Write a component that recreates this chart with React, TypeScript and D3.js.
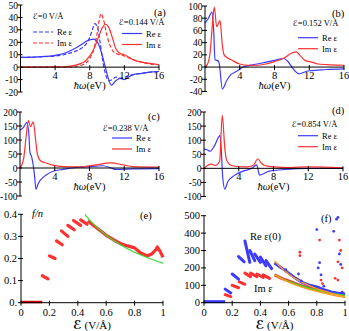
import React from "react";
import * as d3 from "d3";

type Pt = [number, number];

// ---- panel (a) ----
const aReE0: Pt[] = [[0, 7.8], [2, 8.2], [4, 9], [5, 10], [6, 12], [7, 15], [7.5, 18], [8, 24], [8.3, 30], [8.6, 35], [8.9, 32], [9.2, 20], [9.5, 5], [9.8, -5], [10.2, -11], [10.6, -10], [11, -8], [11.5, -9], [12, -8], [13, -6], [14, -5], [15, -4], [16, -3.5]];
const aImE0: Pt[] = [[0, 0], [5, 0], [6, 0.3], [7, 1.5], [7.5, 3], [8, 7], [8.5, 15], [8.8, 25], [9.1, 38], [9.3, 43], [9.6, 38], [10, 25], [10.5, 15], [11, 11], [11.5, 10], [12, 9], [13, 6], [14, 4], [15, 2.5], [16, 2]];
const aReE144: Pt[] = [[0, 7.8], [2, 8.3], [4, 9.5], [5, 11], [6, 14], [7, 18], [7.5, 20.5], [8, 22], [8.5, 22.5], [8.8, 21], [9.1, 17], [9.5, 8], [9.8, 0], [10.1, -8], [10.5, -14.5], [11, -11], [11.5, -9], [12, -10], [12.5, -8], [13, -6], [14, -5], [15, -4], [16, -3.5]];
const aImE144: Pt[] = [[0, 0], [5, 0.3], [6, 1], [7, 3], [7.5, 5], [8, 9], [8.5, 15], [9, 24], [9.4, 31], [9.8, 34.5], [10.2, 32], [10.6, 24], [11, 15], [11.5, 11], [12, 10], [12.5, 8], [13, 6], [14, 4], [15, 3], [16, 2]];
const aTicksY = [-20, -10, 0, 10, 20, 30, 40, 50];

// ---- panel (b) ----
const bRe: Pt[] = [[0, 72], [0.4, 80], [0.8, 90], [1.0, 60], [1.15, 12], [1.4, 11], [1.6, 8], [2.0, -36], [2.5, -22], [3, -12], [3.5, -8], [4.4, 0], [6, 5], [8, 11], [9, 14], [9.5, 10], [10, 0], [10.8, -11], [11.5, -8], [12, -6], [13, -5], [14, -4], [16, -3]];
const bIm: Pt[] = [[0, 0], [0.3, 5], [0.6, 25], [0.85, 70], [1.07, 98], [1.35, 66], [1.73, 76], [2.0, 35], [2.2, 20], [2.6, 15], [3, 12], [4, 5], [5, 3], [6, 3], [7, 5], [8, 9], [9, 14], [10, 23], [10.5, 25], [11, 18], [11.5, 11], [12.3, 8], [13, 5], [14, 4], [16, 3]];
const bTicksY = [-40, -20, 0, 20, 40, 60, 80, 100];

// ---- panel (c) ----
const cRe: Pt[] = [[0, 135], [0.4, 145], [0.77, 162], [1.0, 130], [1.15, 55], [1.34, 40], [1.65, -20], [1.84, -76], [2.1, -55], [2.6, -35], [3, -25], [4, -10], [5, -5], [6, 0], [8, 5], [9.5, 8], [10.5, 0], [11, -5], [13, -3], [16, -2]];
const cIm: Pt[] = [[0, 0], [0.4, 30], [0.7, 110], [0.96, 170], [1.2, 148], [1.53, 165], [1.8, 100], [2.0, 50], [2.4, 25], [3, 18], [3.8, 10], [5, 5], [7, 4], [8.5, 10], [10.5, 18], [12, 10], [13, 5], [16, 3]];
const cdTicksY = [-100, -50, 0, 50, 100, 150, 200];

// ---- panel (d) ----
const dRe: Pt[] = [[0, 68], [0.35, 66], [0.7, 61], [1.2, 80], [1.84, 116], [2.0, 60], [2.15, -30], [2.4, -74], [2.7, -50], [3.5, -25], [4.5, -10], [5.5, 0], [6.06, 12], [6.4, -24], [7.5, -10], [9, -5], [12, 0], [16, 0]];
const dIm: Pt[] = [[0, 0], [0.8, 15], [1.3, 10], [1.8, 25], [2.1, 188], [2.4, 70], [2.6, 30], [3.2, 10], [4, 6], [5, 5], [5.7, 12], [6.2, 34], [6.6, 18], [7, 10], [8, 5], [10, 3], [12, 5], [16, 2]];

const eVTicks = [4, 8, 12, 16];

// ---- panel (e) ----
const eZero: Pt[] = [[0, 0.003], [0.15, 0.003]];
const eSegs: Pt[][] = [
  [[0.15, 0.122], [0.19, 0.108]],
  [[0.2, 0.212], [0.24, 0.2]],
  [[0.25, 0.28], [0.29, 0.262]],
  [[0.285, 0.325], [0.33, 0.3]],
  [[0.33, 0.35], [0.375, 0.33]],
  [[0.37, 0.372], [0.42, 0.35]],
  [[0.42, 0.375], [0.465, 0.355]],
];
const eTail: Pt[] = [[0.47, 0.37], [0.5, 0.355], [0.55, 0.33], [0.6, 0.305], [0.65, 0.285], [0.7, 0.268], [0.75, 0.257], [0.8, 0.248], [0.84, 0.226], [0.89, 0.212], [0.92, 0.22], [0.95, 0.24], [0.96, 0.252], [0.98, 0.232], [1.0, 0.205]];
const eGreen: Pt[] = [[0.45, 0.4], [0.5, 0.362], [0.6, 0.305], [0.7, 0.262], [0.8, 0.228], [0.9, 0.201], [1.0, 0.179]];
const eTicksY = [0, 0.1, 0.2, 0.3, 0.4];
const eTickLabY = ["0.", "0.1", "0.2", "0.3", "0.4"];
const fieldTicks = [0, 0.2, 0.4, 0.6, 0.8, 1];
const fieldTickLab = ["0", "0.2", "0.4", "0.6", "0.8", "1"];

// ---- panel (f) ----
const fBlueZero: Pt[] = [[0, 6], [0.15, 6]];
const fBlueSegs: Pt[][] = [
  [[0.15, 78], [0.19, 56]],
  [[0.2, 165], [0.245, 135]],
  [[0.245, 265], [0.285, 235]],
  [[0.29, 355], [0.325, 232]],
  [[0.325, 300], [0.36, 242]],
  [[0.36, 280], [0.4, 232]],
  [[0.4, 262], [0.44, 212]],
  [[0.44, 242], [0.48, 196]],
];
const fRedSegs: Pt[][] = [
  [[0.15, 46], [0.19, 35]],
  [[0.2, 100], [0.245, 86]],
  [[0.25, 120], [0.29, 106]],
  [[0.29, 170], [0.33, 150]],
  [[0.33, 170], [0.375, 150]],
  [[0.375, 165], [0.42, 145]],
  [[0.42, 160], [0.465, 140]],
];
const fBlueTail: Pt[] = [[0.5, 228], [0.55, 200], [0.6, 170], [0.65, 140], [0.7, 115], [0.75, 100], [0.8, 90], [0.85, 75], [0.9, 62], [0.95, 55], [1.0, 50]];
const fRedTail: Pt[] = [[0.5, 160], [0.55, 140], [0.6, 125], [0.65, 110], [0.7, 95], [0.75, 85], [0.8, 75], [0.85, 65], [0.9, 58], [0.95, 52], [1.0, 45]];
const fOrangeUp: Pt[] = [[0.5, 240], [0.6, 165], [0.7, 115], [0.8, 80], [0.9, 55], [1.0, 35]];
const fOrangeLow: Pt[] = [[0.5, 160], [0.6, 118], [0.7, 88], [0.8, 65], [0.9, 45], [1.0, 30]];
const fGreen: Pt[] = [[0.5, 160], [0.6, 122], [0.7, 95], [0.8, 72], [0.9, 55], [1.0, 42]];
const fBlueDots: Pt[] = [[0.58, 190], [0.67, 165], [0.69, 125], [0.8, 420], [0.81, 200], [0.82, 230], [0.83, 160], [0.85, 95], [0.92, 410], [0.94, 480], [0.95, 490], [0.96, 280], [0.97, 220], [0.98, 60]];
const fRedDots: Pt[] = [[0.68, 290], [0.68, 270], [0.82, 360], [0.83, 130], [0.84, 110], [0.93, 140], [0.95, 130], [0.95, 235], [0.96, 360], [0.97, 300], [0.98, 200]];
const fTicksY = [0, 100, 200, 300, 400, 500];

const BLUE = "#3b3bff";
const RED = "#ff3030";
const GREEN = "#33dd33";
const ORANGE = "#ff9a1a";
const FONT = "'Liberation Serif', 'Times New Roman', serif";
const SCRIPT = "'DejaVu Sans', sans-serif";
const E = "\u2130";

type Series = { data: Pt[]; color: string; dash?: string };
type Legend = { title: string; tx: number; ty: number; lx: number; y1: number; dash?: string };

function Spectrum(props: {
  x0: number; x1: number; yDomain: [number, number]; yRange: [number, number];
  yTicks: number[]; series: Series[]; legends: Legend[]; tag: string; tagX: number; tagY: number;
}) {
  const { x0, x1, yDomain, yRange, yTicks, series, legends, tag, tagX, tagY } = props;
  const x = d3.scaleLinear().domain([0, 16]).range([x0, x1]);
  const y = d3.scaleLinear().domain(yDomain).range(yRange);
  const line = d3.line<Pt>().x(d => x(d[0])).y(d => y(d[1])).curve(d3.curveMonotoneX);
  const zy = y(0);
  return (
    <g fontFamily={FONT} fill="#000">
      {series.map((s, i) => (
        <path key={i} d={line(s.data) || ""} fill="none" stroke={s.color} strokeWidth={1.2} strokeDasharray={s.dash} />
      ))}
      <line x1={x0} x2={x1} y1={zy} y2={zy} stroke="#000" strokeWidth={1} />
      <line x1={x0} x2={x0} y1={yRange[0]} y2={yRange[1]} stroke="#000" strokeWidth={1} />
      {yTicks.map(t => (
        <g key={t}>
          <line x1={x0 - 3} x2={x0 + 2} y1={y(t)} y2={y(t)} stroke="#000" />
          <text x={x0 - 2.5} y={y(t) + 3.5} fontSize={9.5} textAnchor="end">{t < 0 ? "-" + Math.abs(t) : t}</text>
        </g>
      ))}
      {eVTicks.map(t => (
        <g key={t}>
          <line x1={x(t)} x2={x(t)} y1={zy - 2} y2={zy + 3} stroke="#000" />
          <text x={x(t)} y={zy + 12} fontSize={10.5} textAnchor="middle">{t}</text>
        </g>
      ))}
      <text x={(x0 + x1) / 2} y={zy + 22} fontSize={10.5} textAnchor="middle">
        <tspan fontStyle="italic">ħω</tspan>(eV)
      </text>
      {legends.map((l, i) => (
        <g key={i}>
          <text x={l.tx} y={l.ty} fontSize={8.5}><tspan fontFamily={SCRIPT} fontStyle="italic" fontSize={8}>{E}</tspan>{l.title}</text>
          <line x1={l.lx} x2={l.lx + 20} y1={l.y1} y2={l.y1} stroke={BLUE} strokeWidth={1.2} strokeDasharray={l.dash} />
          <text x={l.lx + 24} y={l.y1 + 3} fontSize={8.5}>Re ε</text>
          <line x1={l.lx} x2={l.lx + 20} y1={l.y1 + 11} y2={l.y1 + 11} stroke={RED} strokeWidth={1.2} strokeDasharray={l.dash} />
          <text x={l.lx + 24} y={l.y1 + 14} fontSize={8.5}>Im ε</text>
        </g>
      ))}
      <text x={tagX} y={tagY} fontSize={10.5}>{tag}</text>
    </g>
  );
}

function FieldAxes(props: { x: d3.ScaleLinear<number, number>; y: d3.ScaleLinear<number, number>; ticks: number[]; labels: string[] }) {
  const { x, y, ticks, labels } = props;
  const [x0] = x.range();
  const [yb, yt] = y.range();
  return (
    <g fontFamily={FONT}>
      <line x1={x0} x2={x(1)} y1={yb} y2={yb} stroke="#000" />
      <line x1={x0} x2={x0} y1={yb} y2={yt} stroke="#000" />
      {ticks.map((t, i) => (
        <g key={i}>
          <line x1={x0 - 3} x2={x0 + 2} y1={y(t)} y2={y(t)} stroke="#000" />
          <text x={x0 - 4} y={y(t) + 3.5} fontSize={10.5} textAnchor="end">{labels[i]}</text>
        </g>
      ))}
      {fieldTicks.map((t, i) => (
        <g key={i}>
          <line x1={x(t)} x2={x(t)} y1={yb - 2} y2={yb + 3} stroke="#000" />
          <text x={x(t)} y={yb + 13} fontSize={10.5} textAnchor="middle">{fieldTickLab[i]}</text>
        </g>
      ))}
      <text x={(x0 + x(1)) / 2} y={yb + 26.5} fontSize={11} textAnchor="middle">
        <tspan fontFamily={SCRIPT} fontStyle="italic" fontWeight="bold" fontSize={12}>{E}</tspan> (V/Å)
      </text>
    </g>
  );
}

export default function App() {
  const ex = d3.scaleLinear().domain([0, 1]).range([21, 163]);
  const ey = d3.scaleLinear().domain([0, 0.4]).range([302.7, 214.3]);
  const fx = d3.scaleLinear().domain([0, 1]).range([204, 345]);
  const fy = d3.scaleLinear().domain([0, 500]).range([302.7, 215.7]);
  const eLine = d3.line<Pt>().x(d => ex(d[0])).y(d => ey(d[1]));
  const fLine = d3.line<Pt>().x(d => fx(d[0])).y(d => fy(d[1]));
  const eSmooth = d3.line<Pt>().x(d => ex(d[0])).y(d => ey(d[1])).curve(d3.curveMonotoneX);
  const fSmooth = d3.line<Pt>().x(d => fx(d[0])).y(d => fy(d[1])).curve(d3.curveMonotoneX);

  return (
    <svg width={349} height={331} style={{ position: "absolute", left: 0, top: 0, background: "#fff" }}>
      <Spectrum x0={20.5} x1={159} yDomain={[-20, 50]} yRange={[92, 5]} yTicks={aTicksY}
        series={[
          { data: aReE0, color: BLUE, dash: "4,2" },
          { data: aImE0, color: RED, dash: "4,2" },
          { data: aReE144, color: BLUE },
          { data: aImE144, color: RED },
        ]}
        legends={[
          { title: "=0 V/Å", tx: 33, ty: 19, lx: 33, y1: 32, dash: "4,2" },
          { title: "=0.144 V/Å", tx: 119, ty: 24.5, lx: 122, y1: 33.5 },
        ]}
        tag="(a)" tagX={154} tagY={15.5} />
      <Spectrum x0={205} x1={344} yDomain={[-40, 100]} yRange={[91.5, 6]} yTicks={bTicksY}
        series={[{ data: bRe, color: BLUE }, { data: bIm, color: RED }]}
        legends={[{ title: "=0.152 V/Å", tx: 293, ty: 26, lx: 298, y1: 37.7 }]}
        tag="(b)" tagX={332} tagY={17} />
      <Spectrum x0={20} x1={159} yDomain={[-100, 200]} yRange={[196, 112]} yTicks={cdTicksY}
        series={[{ data: cRe, color: BLUE }, { data: cIm, color: RED }]}
        legends={[{ title: "=0.238 V/Å", tx: 103, ty: 131, lx: 112, y1: 138 }]}
        tag="(c)" tagX={148} tagY={120} />
      <Spectrum x0={204} x1={343} yDomain={[-100, 200]} yRange={[196.5, 112]} yTicks={cdTicksY}
        series={[{ data: dRe, color: BLUE }, { data: dIm, color: RED }]}
        legends={[{ title: "=0.854 V/Å", tx: 292, ty: 126.5, lx: 298, y1: 135.7 }]}
        tag="(d)" tagX={332} tagY={113.5} />

      {/* panel (e) */}
      <g>
        <path d={eLine(eZero) || ""} stroke="#cc0000" strokeWidth={2.5} fill="none" />
        {eSegs.map((s, i) => (
          <path key={i} d={eLine(s) || ""} stroke={RED} strokeWidth={3.2} strokeLinecap="round" fill="none" />
        ))}
        <path d={eLine(eTail) || ""} stroke={RED} strokeWidth={3.2} strokeLinejoin="round" fill="none" />
        <path d={eSmooth(eGreen) || ""} stroke={GREEN} strokeWidth={1.2} fill="none" />
        <FieldAxes x={ex} y={ey} ticks={eTicksY} labels={eTickLabY} />
        <text x={32} y={217} fontSize={10.5} fontStyle="italic" fontFamily={FONT}>f/n</text>
        <text x={140} y={219} fontSize={10.5} fontFamily={FONT}>(e)</text>
      </g>

      {/* panel (f) */}
      <g>
        <path d={fLine(fBlueZero) || ""} stroke={BLUE} strokeWidth={3} fill="none" />
        {fRedSegs.map((s, i) => (
          <path key={"r" + i} d={fLine(s) || ""} stroke={RED} strokeWidth={3} strokeLinecap="round" fill="none" />
        ))}
        {fBlueSegs.map((s, i) => (
          <path key={"b" + i} d={fLine(s) || ""} stroke={BLUE} strokeWidth={3} strokeLinecap="round" fill="none" />
        ))}
        <path d={fLine(fRedTail) || ""} stroke={RED} strokeWidth={3} fill="none" />
        <path d={fLine(fBlueTail) || ""} stroke={BLUE} strokeWidth={3} fill="none" />
        <path d={fSmooth(fGreen) || ""} stroke={GREEN} strokeWidth={1.5} fill="none" />
        <path d={fSmooth(fOrangeUp) || ""} stroke={ORANGE} strokeWidth={1.5} fill="none" />
        <path d={fSmooth(fOrangeLow) || ""} stroke={ORANGE} strokeWidth={1.5} fill="none" />
        {fBlueDots.map((d, i) => <circle key={"bd" + i} cx={fx(d[0])} cy={fy(d[1])} r={1.4} fill={BLUE} />)}
        {fRedDots.map((d, i) => <circle key={"rd" + i} cx={fx(d[0])} cy={fy(d[1])} r={1.4} fill={RED} />)}
        <FieldAxes x={fx} y={fy} ticks={fTicksY} labels={fTicksY.map(String)} />
        <text x={250} y={240} fontSize={10.5} fontFamily={FONT}>Re ε(0)</text>
        <text x={254} y={292} fontSize={10.5} fontFamily={FONT}>Im ε</text>
        <text x={321} y={222} fontSize={10.5} fontFamily={FONT}>(f)</text>
      </g>
    </svg>
  );
}
